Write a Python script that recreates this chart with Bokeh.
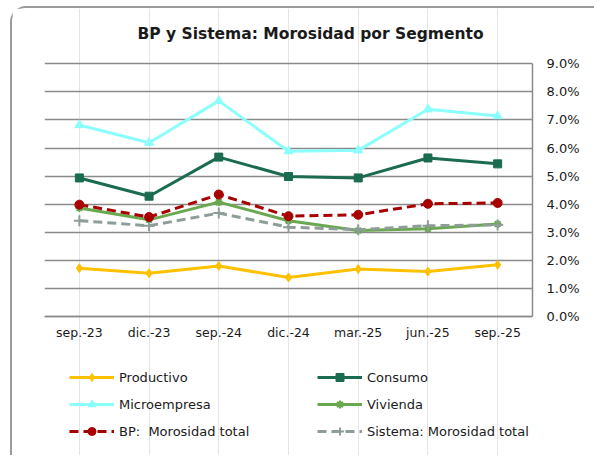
from bokeh.plotting import figure
from bokeh.models import (ColumnDataSource, Legend, LegendItem, LinearAxis, Grid, CategoricalAxis,
                          PrintfTickFormatter, FixedTicker, Range1d, FactorRange, Label)
from bokeh.embed import file_html
from bokeh.resources import INLINE

periods = ["sep.-23", "dic.-23", "sep.-24", "dic.-24", "mar.-25", "jun.-25", "sep.-25"]
productivo = [1.73, 1.55, 1.81, 1.40, 1.70, 1.61, 1.85]
consumo = [4.94, 4.29, 5.68, 4.99, 4.94, 5.65, 5.44]
microempresa = [6.82, 6.19, 7.68, 5.89, 5.92, 7.38, 7.14]
vivienda = [3.87, 3.45, 4.08, 3.42, 3.07, 3.13, 3.30]
bp_total = [3.99, 3.55, 4.35, 3.58, 3.63, 4.02, 4.05]
sistema_total = [3.42, 3.24, 3.69, 3.19, 3.10, 3.24, 3.27]
y_ticks = [0, 1, 2, 3, 4, 5, 6, 7, 8, 9]
title_text = "BP y Sistema: Morosidad por Segmento"

FONT = "DejaVu Sans"

# frame spans the whole height so title and legend can sit inside it
p = figure(width=584, height=449, x_range=FactorRange(*periods), y_range=Range1d(-5, 10.964),
           output_backend="svg", toolbar_location=None, y_axis_location=None, x_axis_location=None,
           min_border_left=32, min_border_right=64, min_border_top=0, min_border_bottom=0,
           outline_line_color=None)
p.styles = {"border-left": "2px solid #9a9a9a", "border-top": "2px solid #9a9a9a",
            "border-top-left-radius": "16px", "box-sizing": "border-box",
            "margin-left": "10px", "margin-top": "6px"}

p.add_layout(Label(x=266, y=424, x_units="screen", y_units="screen", text=title_text,
                   text_font=FONT, text_font_size="15.5px", text_font_style="bold",
                   text_color="#1a1a1a", text_align="center", text_baseline="middle"))

xax = CategoricalAxis(fixed_location=0)
xax.axis_line_color = "#8a8a8a"
xax.axis_line_width = 1.5
xax.major_tick_line_color = None
xax.minor_tick_line_color = None
xax.major_label_text_font = FONT
xax.major_label_text_font_size = "12.5px"
xax.major_label_text_color = "#1a1a1a"
xax.major_label_standoff = 2
p.add_layout(xax, "below")

yax = LinearAxis(ticker=FixedTicker(ticks=y_ticks), formatter=PrintfTickFormatter(format="%.1f%%"),
                 bounds=(0, 9))
yax.axis_line_color = "#8a8a8a"
yax.axis_line_width = 1.5
yax.major_tick_line_color = None
yax.minor_tick_line_color = None
yax.major_label_text_font = FONT
yax.major_label_text_font_size = "13px"
yax.major_label_text_color = "#1a1a1a"
yax.major_label_standoff = 8
p.add_layout(yax, "right")

p.add_layout(Grid(dimension=1, ticker=yax.ticker, grid_line_color="#8a8a8a", grid_line_width=1.5))

src = ColumnDataSource(dict(x=periods, productivo=productivo, consumo=consumo,
                            microempresa=microempresa, vivienda=vivienda,
                            bp=bp_total, sistema=sistema_total))

def series(col, color, marker, size, dash="solid", lw=3):
    l = p.line("x", col, source=src, line_color=color, line_width=lw, line_dash=dash)
    s = p.scatter("x", col, source=src, marker=marker, size=size,
                  fill_color=color, line_color=color,
                  line_width=2 if marker in ("cross", "asterisk") else 1)
    return [l, s]

r_prod = series("productivo", "#FFC000", "diamond", 9)
r_cons = series("consumo", "#1B6B50", "square", 8)
r_micro = series("microempresa", "#8AFFFB", "triangle", 9)
r_viv = series("vivienda", "#6AA84F", "asterisk", 8)
r_sis = series("sistema", "#8E9C9A", "cross", 11, dash="9 5")
r_bp = series("bp", "#A80000", "circle", 9, dash="9 5")

common = dict(glyph_width=45, glyph_height=20, label_height=20, label_standoff=5,
              spacing=7, padding=0, margin=0, border_line_color=None,
              background_fill_alpha=0, label_text_font=FONT,
              label_text_font_size="13px", label_text_color="#1a1a1a")

leg1 = Legend(items=[LegendItem(label="Productivo", renderers=r_prod),
                     LegendItem(label="Microempresa", renderers=r_micro),
                     LegendItem(label="BP:  Morosidad total", renderers=r_bp)],
              location=(25, 16), **common)
leg2 = Legend(items=[LegendItem(label="Consumo", renderers=r_cons),
                     LegendItem(label="Vivienda", renderers=r_viv),
                     LegendItem(label="Sistema: Morosidad total", renderers=r_sis)],
              location=(273, 16), **common)
p.add_layout(leg1, "center")
p.add_layout(leg2, "center")

open("out.html", "w").write(file_html(p, INLINE))
